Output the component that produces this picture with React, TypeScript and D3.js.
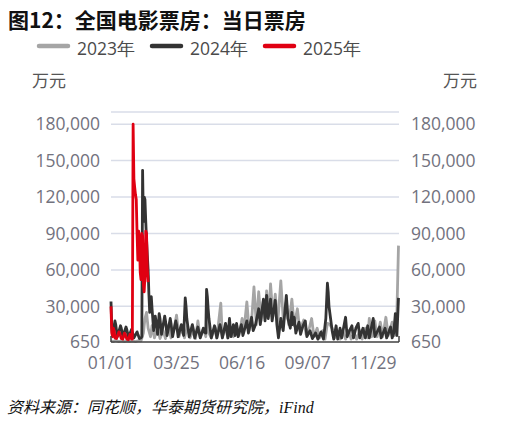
import React from 'react';
import * as d3 from 'd3';

// day-of-year, daily box office (万元)
const series2023: [number, number][] = [
  [0, 1500], [3, 1000], [6, 2000], [10, 1000], [13, 1500], [17, 1000], [20, 1500], [24, 1200], [27, 1500],
  [31, 1000], [34, 1500], [38, 1500], [41, 8000], [43, 20000], [45, 25000], [47, 12000], [50, 5000],
  [52, 14000], [55, 4000], [59, 12000], [62, 3500], [66, 10000], [69, 3500], [73, 15000], [76, 4000],
  [80, 12000], [83, 22800], [86, 5000], [90, 12000], [93, 4000], [97, 14000], [100, 4000], [104, 10000],
  [107, 3500], [110, 18000], [113, 4000], [117, 12000], [120, 5000], [122, 20000], [124, 8000], [127, 4000],
  [131, 12000], [134, 4000], [139, 32700], [141, 5000], [145, 13000], [148, 4000], [152, 12000], [155, 5000],
  [159, 15000], [162, 6000], [166, 20000], [168, 8000], [172, 33600], [175, 10000], [178, 18000], [181, 46000],
  [184, 15000], [187, 42000], [190, 18000], [193, 35000], [195, 20000], [197, 42700], [200, 22000],
  [202, 48500], [205, 22000], [208, 40000], [211, 15000], [215, 51000], [218, 20000], [222, 34000],
  [225, 15000], [229, 36000], [232, 14000], [236, 28000], [239, 10000], [244, 18800], [247, 7000],
  [251, 12000], [254, 20000], [257, 5000], [261, 12000], [264, 4000], [268, 10000], [271, 3000],
  [274, 16000], [277, 15000], [280, 12000], [283, 4000], [287, 9000], [290, 3000], [294, 9000], [297, 3000],
  [301, 10000], [304, 3000], [308, 8000], [311, 3000], [315, 10000], [318, 3000], [322, 12000], [325, 4000],
  [327, 20000], [330, 5000], [334, 18000], [337, 5000], [341, 17000], [344, 5000], [348, 21000], [351, 6000],
  [356, 17000], [359, 6000], [362, 25000], [364, 80000],
];

const series2024: [number, number][] = [
  [0, 34000], [1, 12000], [2, 6000], [5, 18000], [6, 15000], [8, 5000], [12, 14000], [13, 12000], [15, 5000],
  [19, 13000], [20, 11000], [22, 4500], [26, 11000], [27, 9000], [29, 4000], [33, 9000], [34, 7000],
  [36, 3500], [38, 4000], [39, 5000], [40, 142000], [41, 100000], [42, 120000], [43, 118000], [44, 100000],
  [45, 85000], [46, 72000], [47, 60000], [48, 40000], [49, 25000], [50, 30000], [51, 38000], [52, 28000],
  [54, 10000], [56, 22000],
  [57, 18000], [59, 7000], [61, 24000], [62, 20000], [64, 7000], [68, 22000], [69, 18000], [71, 6000],
  [75, 20000], [76, 16000], [78, 5000], [82, 18000], [83, 15000], [85, 5000], [89, 15000], [90, 12000],
  [92, 6000], [94, 37000], [95, 30000], [96, 20000], [99, 5000], [103, 15000], [104, 12000], [106, 4000],
  [110, 13000], [111, 10000], [113, 4000], [117, 12000], [118, 9000], [120, 8000], [121, 44000],
  [122, 38000], [123, 28000], [124, 20000], [125, 15000], [127, 4000], [131, 14000], [132, 12000],
  [134, 4000], [138, 15000], [139, 12000], [141, 4000], [145, 16000], [146, 13000], [148, 4000],
  [150, 20000], [152, 5000], [155, 15000], [157, 6000], [159, 16000], [161, 5000], [165, 15000],
  [167, 6000], [172, 18000], [174, 8000], [178, 21000], [180, 10000], [183, 15000], [187, 28000],
  [189, 15000], [193, 36000], [195, 18000], [197, 39000], [199, 20000], [202, 36000], [204, 18000],
  [208, 35000], [210, 15000], [212, 4000], [215, 20000], [218, 10000], [222, 39000], [224, 20000],
  [227, 12000], [229, 25000], [230, 15000], [232, 21000], [234, 8000], [238, 17000], [240, 7000],
  [243, 14000], [246, 18000], [248, 5000], [252, 10000], [255, 3500], [259, 8000], [262, 3000],
  [266, 9000], [269, 3000], [272, 20000], [274, 49000], [275, 42000], [276, 30000], [278, 20000],
  [280, 10000], [282, 3000], [285, 14000], [287, 3000], [290, 12000], [292, 4000], [297, 21000],
  [299, 5000], [302, 10000], [305, 14000], [307, 4000], [310, 12000], [313, 16000], [315, 4000],
  [319, 12000], [322, 4000], [325, 14000], [327, 4000], [332, 20000], [334, 5000], [340, 13000],
  [342, 4000], [347, 12000], [349, 4000], [354, 13000], [356, 4000], [358, 8000], [360, 24000],
  [362, 6000], [364, 37000],
];

const series2025: [number, number][] = [
  [0, 30000], [1, 8000], [2, 5000], [3, 12000], [4, 10000], [5, 4000], [7, 3500], [10, 9000], [11, 8000],
  [13, 3500], [15, 3000], [17, 8000], [18, 7000], [20, 3000], [22, 2500], [24, 7000], [25, 6000],
  [26, 3000], [27, 3000], [28, 180000], [29, 135000], [30, 128000], [31, 122000], [32, 118000],
  [33, 90000], [34, 68000], [35, 92000], [36, 85000], [37, 58000], [38, 52000], [39, 90000], [40, 88000],
  [41, 48000], [42, 42000], [43, 55000], [44, 92000], [45, 90000], [46, 60000], [47, 50000],
];

const seriesNames = ['2023年', '2024年', '2025年'];
const seriesColors = ['#a5a5a5', '#333333', '#e00012'];
const yTicks = [650, 30000, 60000, 90000, 120000, 150000, 180000];
const xTickDays = [0, 83, 166, 249, 332];
const xTickLabels = ['01/01', '03/25', '06/16', '09/07', '11/29'];

const W = 519;
const H = 426;
const numFont = '"Open Sans", "Noto Sans", sans-serif';
const cjkFont = '"Noto Sans CJK SC", sans-serif';

export default function App() {
  const x = d3.scaleLinear().domain([0, 364]).range([111, 398.5]);
  const y = d3.scaleLinear().domain([650, 190000]).range([342, 112]);
  const line = d3.line<[number, number]>()
    .x(d => x(d[0]))
    .y(d => y(d[1]));
  const fmt = d3.format(',');
  const allSeries = [series2023, series2024, series2025];
  const legendX = [39, 152, 265];

  return (
    <svg width={W} height={H} style={{ position: 'absolute', left: 0, top: 0 }}>
      <rect width={W} height={H} fill="#fff" />
      <text x={8} y={28} fontSize={21} fontWeight="bold" fontFamily={cjkFont} fill="#111">
        图12：全国电影票房：当日票房
      </text>

      {seriesNames.map((name, i) => (
        <g key={name}>
          <line x1={legendX[i]} x2={legendX[i] + 29} y1={46} y2={46}
            stroke={seriesColors[i]} strokeWidth={4.5} strokeLinecap="round" />
          <text x={legendX[i] + 38} y={55} fontSize={17.5} fontFamily={numFont} fill="#4a4a4a">
            {name}
          </text>
        </g>
      ))}

      <text x={32} y={87} fontSize={17} fontFamily={cjkFont} fill="#555">万元</text>
      <text x={443} y={87} fontSize={17} fontFamily={cjkFont} fill="#555">万元</text>

      {/* gridlines */}
      {[...yTicks.slice(1), 190000].map(t => (
        <line key={t} x1={111} x2={399} y1={y(t)} y2={y(t)} stroke="#d9dde8" strokeWidth={1.5} />
      ))}

      {yTicks.map(t => (
        <g key={'l' + t} fontSize={17.5} fontFamily={numFont} fill="#72727e">
          <text x={100} y={y(t)} dy="0.36em" textAnchor="end">{fmt(t)}</text>
          <text x={411} y={y(t)} dy="0.36em">{fmt(t)}</text>
        </g>
      ))}

      {xTickDays.map((d, i) => (
        <text key={d} x={x(d)} y={369} textAnchor="middle" fontSize={17.5} fontFamily={numFont} fill="#72727e">
          {xTickLabels[i]}
        </text>
      ))}

      {allSeries.map((s, i) => (
        <path key={i} d={line(s) ?? ''} fill="none" stroke={seriesColors[i]} strokeWidth={2.8}
          strokeLinejoin="round" />
      ))}

      {/* category axis */}
      <line x1={111} x2={399} y1={342} y2={342} stroke="#404040" strokeWidth={1.5} />
      <line x1={111} x2={111} y1={342} y2={336} stroke="#404040" strokeWidth={1.5} />
      <line x1={399} x2={399} y1={342} y2={336} stroke="#404040" strokeWidth={1.5} />

      <text x={7} y={413} fontSize={16} fontStyle="italic" fontFamily={cjkFont} fill="#111">
        资料来源：同花顺，华泰期货研究院，
        <tspan fontFamily='"Liberation Serif", serif'>iFind</tspan>
      </text>
    </svg>
  );
}
